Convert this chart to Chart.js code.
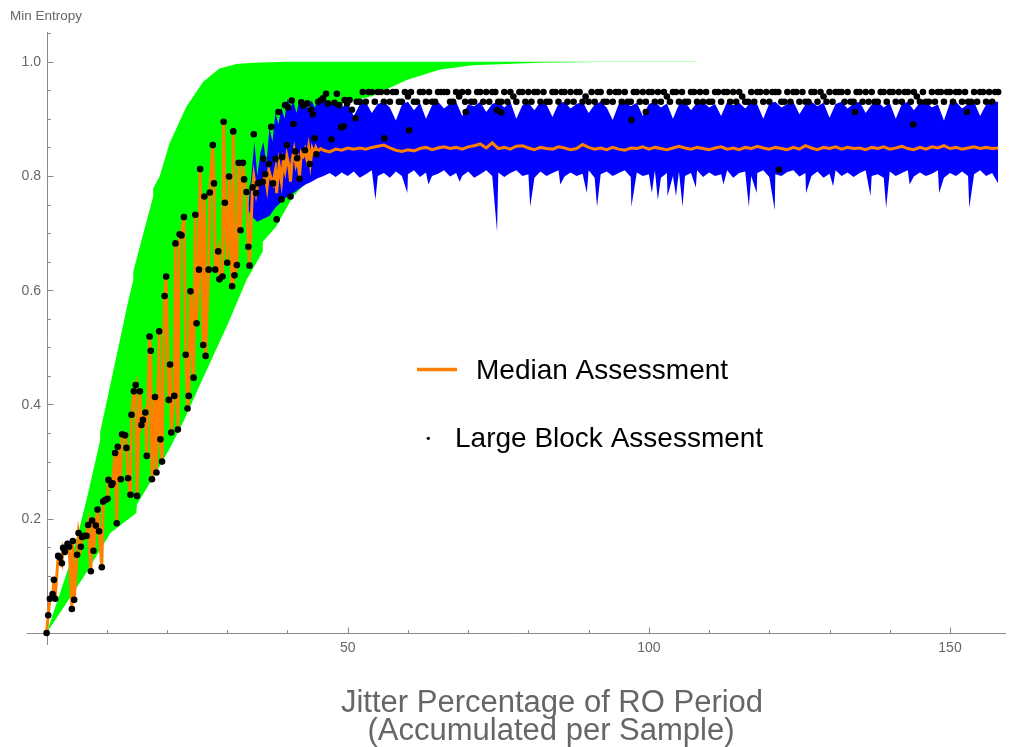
<!DOCTYPE html>
<html>
<head>
<meta charset="utf-8">
<script src="https://cdn.jsdelivr.net/npm/chart.js@4.4.0/dist/chart.umd.min.js"></script>
<style>html,body{margin:0;padding:0;background:#fff;}canvas{display:block;}</style>
</head>
<body>
<canvas id="c" width="1010" height="747"></canvas>
<script>
// ---------------- DATA ----------------
// Large Block Assessment dots, early (rising) region
const earlyX = [0,0.27,0.55,1.0,1.21,1.43,1.92,2.2,2.54,2.75,
  3.03,3.48,3.75,4.2,4.36,4.58,5.07,5.31,5.69,5.9,
  6.24,6.63,6.9,7.35,7.56,7.79,8.18,8.46,8.72,9.17,
  9.39,9.78,10.12,10.28,10.78,10.95,11.38,11.66,11.82,12.32,
  12.54,13.03,13.27,13.53,13.93,14.1,14.5,14.8,15.02,15.5,
  15.75,16.0,16.4,16.63,17.1,17.3,17.5,18.0,18.24,18.7,
  18.9,19.17,19.6,19.85,20.3,20.5,20.7,21.2,21.4,21.8,
  22.1,22.4,22.8,23.1,23.4,23.6,23.9,24.4,24.7,24.9,
  25.3,25.5,26.0,26.2,26.4,26.9,27.1,27.6,27.8,28.0,
  28.5,28.7,29.2,29.4,29.6,30.0,30.3,30.8,31.0,31.2,
  31.6,31.9,32.2,32.6,32.8,33.2,33.5,33.7,34.2,34.4,
  34.8,35.1,35.4,35.9,36.0,36.3,36.9,37.3,37.6,38.0,
  38.2,38.5,39.0,39.1,39.6,39.9,40.1,40.5,40.7,41.0,
  41.3,41.6,42.0,42.3,42.6,42.9,43.3,43.7,43.9,44.2,
  44.5,44.8,45.1,45.6,45.9,46.4,46.7,47.3,47.8,48.2,
  48.6,48.9,49.3,49.5,49.9,50.3,50.7,51.3];
const earlyY = [0,0.031,0.060,0.068,0.093,0.060,0.135,0.132,0.122,0.149,
  0.142,0.156,0.151,0.042,0.161,0.058,0.137,0.175,0.151,0.168,
  0.170,0.170,0.189,0.108,0.197,0.144,0.188,0.216,0.178,0.115,
  0.230,0.233,0.235,0.268,0.259,0.262,0.315,0.192,0.326,0.269,
  0.348,0.346,0.324,0.271,0.242,0.382,0.423,0.434,0.240,0.423,
  0.364,0.373,0.386,0.310,0.519,0.494,0.269,0.413,0.281,0.528,
  0.339,0.300,0.590,0.624,0.408,0.470,0.351,0.415,0.682,0.356,
  0.698,0.696,0.728,0.487,0.393,0.415,0.598,0.447,0.732,0.542,
  0.636,0.812,0.504,0.764,0.485,0.636,0.771,0.854,0.787,0.636,
  0.668,0.619,0.624,0.895,0.753,0.648,0.799,0.607,0.878,0.626,
  0.644,0.823,0.705,0.823,0.794,0.772,0.676,0.643,0.780,0.873,
  0.770,0.787,0.788,0.790,0.830,0.803,0.821,0.886,0.787,0.830,
  0.724,0.912,0.759,0.833,0.924,0.854,0.920,0.764,0.932,0.891,
  0.843,0.831,0.795,0.929,0.923,0.845,0.927,0.821,0.916,0.908,
  0.866,0.838,0.930,0.933,0.936,0.944,0.927,0.864,0.928,0.944,
  0.924,0.885,0.887,0.933,0.927,0.933,0.916,0.901];

// Large Block Assessment dots, plateau region
const lateDotX = [51.5,52,52.5,53,53.5,54,54.5,55,55.5,56,
  56.5,57,57.5,58,58.5,59,59.5,60,60.5,61,
  61.5,62,62.5,63,63.5,64,64.5,65,65.5,66,
  66.5,67,67.5,68,68.5,69,69.5,70,70.5,71,
  71.5,72,72.5,73,73.5,74,74.5,75,75.5,76,
  76.5,77,77.5,78,78.5,79,79.5,80,80.5,81,
  81.5,82,82.5,83,83.5,84,84.5,85,85.5,86,
  86.5,87,87.5,88,88.5,89,89.5,90,90.5,91,
  91.5,92,92.5,93,93.5,94,94.5,95,95.5,96,
  96.5,97,97.5,98,98.5,99,99.5,100,100.5,101,
  101.5,102,102.5,103,103.5,104,104.5,105,105.5,106,
  106.5,107,107.5,108,108.5,109,109.5,110,110.5,111,
  111.5,112,112.5,113,113.5,114,114.5,115,115.5,116,
  116.5,117,117.5,118,118.5,119,119.5,120,120.5,121,
  121.5,122,122.5,123,123.5,124,124.5,125,125.5,126,
  126.5,127,127.5,128,128.5,129,129.5,130,130.5,131,
  131.5,132,132.5,133,133.5,134,134.5,135,135.5,136,
  136.5,137,137.5,138,138.5,139,139.5,140,140.5,141,
  141.5,142,142.5,143,143.5,144,144.5,145,145.5,146,
  146.5,147,147.5,148,148.5,149,149.5,150,150.5,151,
  151.5,152,152.5,153,153.5,154,154.5,155,155.5,156,
  156.5,157,157.5,158];
const lateDotY = [0.930,0.930,0.947,0.930,0.947,0.947,0.930,0.947,0.947,0.930,
  0.947,0.930,0.947,0.947,0.930,0.930,0.947,0.939,0.947,0.930,
  0.930,0.947,0.947,0.930,0.947,0.930,0.930,0.947,0.947,0.947,
  0.947,0.930,0.930,0.947,0.939,0.947,0.930,0.947,0.930,0.930,
  0.947,0.947,0.930,0.947,0.930,0.947,0.947,0.930,0.930,0.947,
  0.930,0.947,0.939,0.930,0.947,0.947,0.930,0.947,0.930,0.947,
  0.947,0.930,0.947,0.930,0.930,0.947,0.947,0.930,0.947,0.947,
  0.930,0.947,0.930,0.947,0.947,0.930,0.939,0.930,0.947,0.930,
  0.947,0.947,0.930,0.930,0.947,0.930,0.947,0.947,0.930,0.947,
  0.930,0.930,0.947,0.947,0.930,0.947,0.930,0.947,0.947,0.930,
  0.947,0.930,0.947,0.939,0.930,0.947,0.947,0.930,0.947,0.930,
  0.930,0.947,0.947,0.930,0.947,0.930,0.947,0.930,0.930,0.947,
  0.947,0.930,0.947,0.947,0.930,0.947,0.930,0.947,0.939,0.930,
  0.930,0.947,0.930,0.947,0.947,0.930,0.947,0.930,0.947,0.947,
  0.947,0.930,0.930,0.947,0.930,0.947,0.947,0.930,0.947,0.930,
  0.930,0.947,0.947,0.930,0.947,0.939,0.930,0.947,0.930,0.947,
  0.947,0.947,0.930,0.947,0.930,0.930,0.947,0.947,0.930,0.947,
  0.930,0.947,0.930,0.930,0.947,0.947,0.930,0.947,0.947,0.930,
  0.947,0.930,0.947,0.947,0.930,0.947,0.939,0.930,0.947,0.930,
  0.930,0.947,0.930,0.947,0.947,0.930,0.947,0.947,0.930,0.947,
  0.947,0.930,0.947,0.930,0.930,0.947,0.930,0.947,0.947,0.930,
  0.947,0.930,0.947,0.947];
const outlierX = [56.1,60.2,69.6,74.8,75.5,97.1,99.5,121.6,134.2,143.9,152.8];
const outlierY = [0.866,0.880,0.912,0.915,0.911,0.898,0.912,0.811,0.912,0.890,0.912];

// Median Assessment: early part follows the dots up to this x, then its own values
const medianEarlyEnd = 34.3;
const medTailX = [34.4,34.8,35.1,35.4,35.9,36.3,36.6,36.9,37.3,37.6,
  38.0,38.2,38.6,39.0,39.3,39.6,39.9,40.2,40.5,40.8,
  41.1,41.4,41.7,42.0,42.3,42.6,42.9,43.2,43.5,43.8,
  44.1,44.4,44.7,45.0,45.5];
const medTailY = [0.80,0.77,0.787,0.788,0.79,0.80,0.78,0.81,0.795,0.787,
  0.81,0.77,0.82,0.79,0.825,0.81,0.835,0.82,0.79,0.83,
  0.845,0.82,0.83,0.80,0.84,0.835,0.845,0.83,0.85,0.822,
  0.848,0.84,0.85,0.843,0.848];

// plateau grid (x = 46 .. 158)
const unitX = [46,47,48,49,50,51,52,53,54,55,
  56,57,58,59,60,61,62,63,64,65,
  66,67,68,69,70,71,72,73,74,75,
  76,77,78,79,80,81,82,83,84,85,
  86,87,88,89,90,91,92,93,94,95,
  96,97,98,99,100,101,102,103,104,105,
  106,107,108,109,110,111,112,113,114,115,
  116,117,118,119,120,121,122,123,124,125,
  126,127,128,129,130,131,132,133,134,135,
  136,137,138,139,140,141,142,143,144,145,
  146,147,148,149,150,151,152,153,154,155,
  156,157,158];
const medLateY = [0.845,0.842,0.847,0.845,0.849,0.847,0.849,0.847,0.85,0.852,
  0.854,0.849,0.845,0.843,0.846,0.844,0.848,0.85,0.846,0.849,
  0.851,0.848,0.85,0.847,0.851,0.853,0.856,0.849,0.858,0.848,
  0.85,0.847,0.852,0.853,0.849,0.846,0.85,0.848,0.847,0.851,
  0.849,0.846,0.848,0.855,0.85,0.847,0.849,0.846,0.85,0.847,
  0.845,0.849,0.848,0.851,0.847,0.85,0.848,0.846,0.849,0.852,
  0.849,0.847,0.85,0.848,0.846,0.849,0.851,0.847,0.849,0.846,
  0.85,0.848,0.852,0.849,0.847,0.85,0.848,0.846,0.85,0.847,
  0.853,0.849,0.846,0.85,0.848,0.851,0.847,0.85,0.848,0.849,
  0.846,0.85,0.848,0.851,0.847,0.849,0.852,0.848,0.846,0.85,
  0.847,0.851,0.849,0.853,0.848,0.85,0.847,0.849,0.851,0.848,
  0.85,0.848,0.849];

// Blue band (spread of assessments)
const blueHiEarlyX = [33.5,34,34.5,35,35.5,36,36.5,37,37.5,38,38.5,39,39.5,40,40.5,41,41.5,42,42.5,43,43.5,44,44.5,45,45.5];
const blueHiEarlyY = [0.75,0.80,0.86,0.80,0.84,0.86,0.82,0.885,0.86,0.91,0.89,0.92,0.90,0.935,0.92,0.93,0.91,0.935,0.925,0.93,0.915,0.932,0.92,0.93,0.928];
const blueLoEarlyX = [33.5,34,35,36,37,38,39,40,41,42,43,44,45];
const blueLoEarlyY = [0.74,0.73,0.72,0.725,0.73,0.745,0.755,0.765,0.77,0.778,0.785,0.79,0.796];
const blueHiY = [0.935,0.925,0.93,0.92,0.928,0.905,0.925,0.93,0.91,0.926,
  0.93,0.92,0.897,0.925,0.93,0.915,0.928,0.90,0.924,0.93,
  0.918,0.927,0.93,0.905,0.925,0.922,0.93,0.912,0.926,0.93,
  0.92,0.93,0.9,0.924,0.928,0.915,0.93,0.925,0.903,0.927,
  0.93,0.918,0.926,0.93,0.91,0.925,0.93,0.92,0.898,0.926,
  0.93,0.922,0.928,0.905,0.926,0.93,0.92,0.927,0.9,0.925,
  0.93,0.915,0.928,0.93,0.92,0.926,0.905,0.93,0.924,0.928,
  0.918,0.93,0.925,0.9,0.927,0.93,0.92,0.926,0.93,0.908,
  0.925,0.93,0.922,0.928,0.902,0.926,0.93,0.918,0.927,0.93,
  0.91,0.925,0.93,0.92,0.928,0.9,0.926,0.93,0.915,0.928,
  0.93,0.92,0.925,0.897,0.928,0.93,0.918,0.926,0.93,0.905,
  0.925,0.93,0.93];
const blueLoY = [0.80,0.805,0.798,0.806,0.80,0.808,0.797,0.803,0.81,0.80,
  0.805,0.797,0.808,0.80,0.803,0.81,0.798,0.806,0.80,0.804,
  0.81,0.799,0.805,0.80,0.808,0.797,0.803,0.81,0.80,0.806,
  0.798,0.805,0.81,0.80,0.803,0.797,0.808,0.80,0.805,0.81,
  0.799,0.806,0.80,0.804,0.81,0.797,0.803,0.808,0.80,0.805,
  0.81,0.798,0.806,0.80,0.803,0.81,0.797,0.805,0.80,0.808,
  0.80,0.805,0.81,0.798,0.806,0.80,0.803,0.81,0.797,0.805,
  0.808,0.80,0.805,0.81,0.798,0.803,0.80,0.807,0.81,0.799,
  0.805,0.80,0.808,0.797,0.804,0.81,0.80,0.806,0.798,0.805,
  0.81,0.80,0.803,0.797,0.808,0.80,0.805,0.81,0.799,0.806,
  0.80,0.804,0.81,0.797,0.805,0.80,0.808,0.80,0.803,0.81,
  0.80,0.805,0.787];
const blueSpikeX = [54.6,59.9,63.4,68.6,74.8,80.3,85.3,89.7,91.4,97.1,100.5,101.5,103.1,104.5,105.6,107.8,112.4,116.6,117.9,120.9,126.1,130.6,136.8,139.4,143.3,148.2,153.2];
const blueSpikeY = [0.758,0.77,0.785,0.79,0.702,0.746,0.785,0.77,0.746,0.746,0.77,0.758,0.765,0.765,0.746,0.78,0.785,0.746,0.77,0.74,0.77,0.782,0.765,0.744,0.785,0.77,0.744];

// Green band (theoretical bounds)
const greenHiX = [0,3.7,5.4,6.7,8.9,8.9,13.6,14.4,14.4,17.7,17.7,18.8,20.4,23.2,26.0,28.7,31.5,34.3,40,60,108];
const greenHiY = [0,0.116,0.181,0.236,0.338,0.352,0.583,0.618,0.633,0.764,0.778,0.80,0.857,0.921,0.965,0.988,0.996,0.998,1.0,1.0,1.0];
const greenLoX = [0,2.9,6.2,10.6,14.9,15.0,17.8,20.6,22.8,26.0,29.9,33.2,35.9,35.9,38.1,40.9,44.2,46,48.6,54.1,59.8,65.2,70.7,81.8,92,108];
const greenLoY = [0,0.046,0.099,0.175,0.21,0.225,0.274,0.326,0.372,0.447,0.536,0.618,0.668,0.685,0.711,0.764,0.80,0.87,0.925,0.94,0.968,0.986,0.994,0.998,0.9995,0.9995];

// Axes ticks
const xTickMarks = [10,20,30,40,50,60,70,80,90,100,110,120,130,140,150];
const xTickValues = [50,100,150];
const xTickLabels = ['50','100','150'];
const yTickMarks = [0.05,0.1,0.15,0.2,0.25,0.3,0.35,0.4,0.45,0.5,0.55,0.6,0.65,0.7,0.75,0.8,0.85,0.9,0.95,1.0,1.05];
const yTickValues = [0.2,0.4,0.6,0.8,1.0];
const yTickLabels = ['0.2','0.4','0.6','0.8','1.0'];

const seriesNames = ['Median Assessment', 'Large Block Assessment'];
const yAxisTitle = 'Min Entropy';
const xAxisTitle = ['Jitter Percentage of RO Period', '(Accumulated per Sample)'];

// ---------------- BUILD ----------------
const pts = (xs, ys) => xs.map((x, i) => ({x: x, y: ys[i]}));
const byX = (a, b) => a.x - b.x;

const dotPts = pts(earlyX, earlyY).concat(pts(lateDotX, lateDotY), pts(outlierX, outlierY));
const medPts = pts(earlyX, earlyY).filter(p => p.x < medianEarlyEnd)
  .concat(pts(medTailX, medTailY), pts(unitX, medLateY));
const blueHiPts = pts(blueHiEarlyX, blueHiEarlyY).concat(pts(unitX, blueHiY));
const blueLoPts = pts(blueLoEarlyX, blueLoEarlyY).concat(pts(unitX, blueLoY).concat(pts(blueSpikeX, blueSpikeY)).sort(byX));
const greenHiPts = pts(greenHiX, greenHiY);
const greenLoPts = pts(greenLoX, greenLoY);

const FONT = '"Liberation Sans", Arial, Helvetica, sans-serif';
const GRAY = '#666666';
const AXIS = '#8a8a8a';
const ORANGE = '#ff8000';

const mmaPlugin = {
  id: 'mmaAxes',
  beforeDatasetsDraw(chart) {
    const {ctx, chartArea: a, scales: {x, y}} = chart;
    const ox = Math.round(x.getPixelForValue(0)) + 0.5;
    const oy = Math.round(y.getPixelForValue(0)) + 0.5;
    ctx.save();
    ctx.strokeStyle = AXIS;
    ctx.lineWidth = 1;
    ctx.beginPath();
    ctx.moveTo(a.left, oy); ctx.lineTo(a.right, oy);
    ctx.moveTo(ox, a.top); ctx.lineTo(ox, a.bottom);
    xTickMarks.forEach(v => {
      const px = Math.round(x.getPixelForValue(v)) + 0.5;
      const len = xTickValues.includes(v) ? 6 : 3.5;
      ctx.moveTo(px, oy); ctx.lineTo(px, oy - len);
    });
    yTickMarks.forEach(v => {
      const py = Math.round(y.getPixelForValue(v)) + 0.5;
      const major = yTickValues.some(t => Math.abs(t - v) < 1e-9);
      ctx.moveTo(ox, py); ctx.lineTo(ox + (major ? 6 : 3.5), py);
    });
    ctx.stroke();
    ctx.restore();
  },
  afterDraw(chart) {
    const {ctx, scales: {x, y}} = chart;
    const ox = x.getPixelForValue(0);
    const oy = y.getPixelForValue(0);
    ctx.save();
    // tick labels
    ctx.fillStyle = GRAY;
    ctx.font = '14px ' + FONT;
    ctx.textAlign = 'right';
    ctx.textBaseline = 'middle';
    yTickValues.forEach((v, i) => ctx.fillText(yTickLabels[i], ox - 5.5, y.getPixelForValue(v) + 0.5));
    ctx.textAlign = 'center';
    xTickValues.forEach((v, i) => ctx.fillText(xTickLabels[i], x.getPixelForValue(v), oy + 15));
    // axis titles
    ctx.font = '13.5px ' + FONT;
    ctx.textAlign = 'left';
    ctx.textBaseline = 'alphabetic';
    ctx.fillText(yAxisTitle, 10, 19.5);
    ctx.font = '31px ' + FONT;
    ctx.textAlign = 'center';
    ctx.fillText(xAxisTitle[0], 552, 712);
    ctx.fillText(xAxisTitle[1], 551, 739.5);
    // legend
    ctx.strokeStyle = ORANGE;
    ctx.lineWidth = 3.5;
    ctx.beginPath(); ctx.moveTo(417, 369.5); ctx.lineTo(457, 369.5); ctx.stroke();
    ctx.fillStyle = '#000';
    ctx.beginPath(); ctx.arc(428.3, 438.3, 1.6, 0, Math.PI * 2); ctx.fill();
    ctx.font = '28px ' + FONT;
    ctx.textAlign = 'left';
    ctx.fillText(seriesNames[0], 476, 378.5);
    ctx.fillText(seriesNames[1], 455, 447);
    ctx.restore();
  }
};

new Chart(document.getElementById('c'), {
  type: 'line',
  data: {
    datasets: [
      { label: seriesNames[1], data: dotPts, showLine: false, pointRadius: 3.3, pointBackgroundColor: '#000', pointBorderWidth: 0, pointBorderColor: '#000', order: 0 },
      { label: seriesNames[0], data: medPts, borderColor: ORANGE, borderWidth: 3, pointRadius: 0, fill: false, order: 1 },
      { label: 'blueLo', data: blueLoPts, borderWidth: 0, borderColor: 'rgba(0,0,255,0)', pointRadius: 0, fill: false, order: 3 },
      { label: 'blueHi', data: blueHiPts, borderWidth: 0, borderColor: 'rgba(0,0,255,0)', backgroundColor: '#0000ff', pointRadius: 0, fill: 2, order: 2 },
      { label: 'greenLo', data: greenLoPts, borderWidth: 0, borderColor: 'rgba(0,255,0,0)', pointRadius: 0, fill: false, order: 5 },
      { label: 'greenHi', data: greenHiPts, borderWidth: 0, borderColor: 'rgba(0,255,0,0)', backgroundColor: '#00ff00', pointRadius: 0, fill: 4, order: 4 }
    ]
  },
  options: {
    responsive: false,
    animation: false,
    devicePixelRatio: 1,
    layout: { padding: { left: 26.7, right: 2, top: 32, bottom: 102 } },
    scales: {
      x: { type: 'linear', min: -3.3, max: 159.3, display: false },
      y: { type: 'linear', min: -0.021, max: 1.052, display: false }
    },
    elements: { line: { tension: 0 } },
    plugins: { legend: { display: false }, tooltip: { enabled: false } }
  },
  plugins: [mmaPlugin]
});
</script>
</body>
</html>
